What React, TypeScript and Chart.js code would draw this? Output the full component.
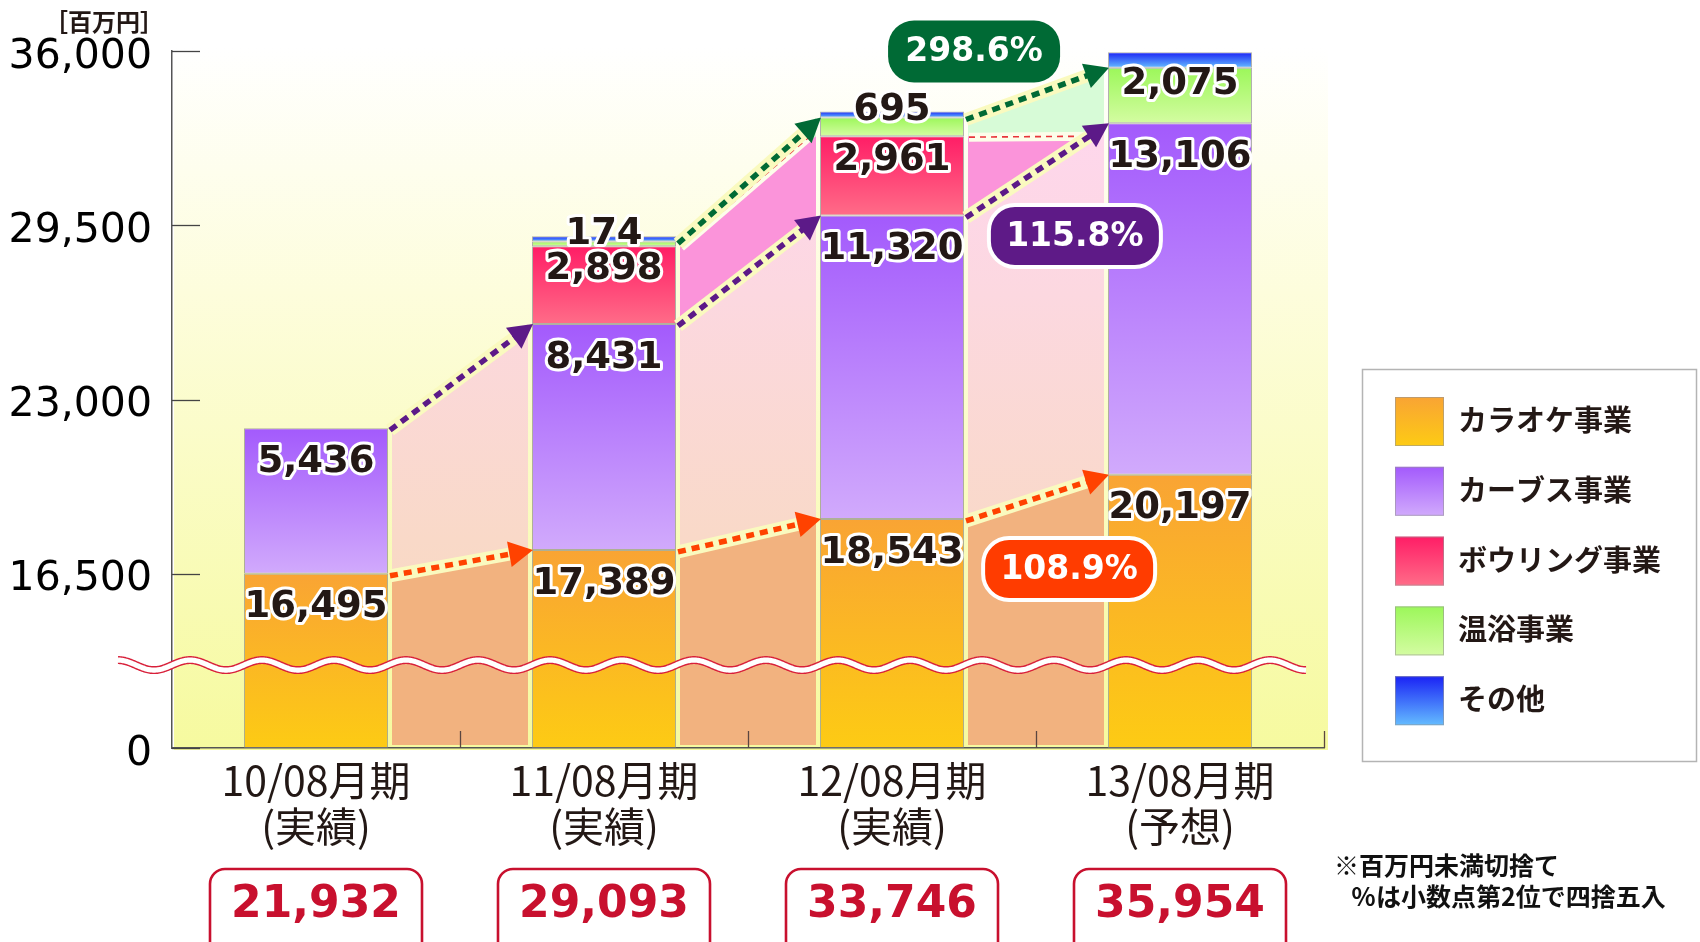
import React, { useEffect, useRef } from 'react';
import { Chart, registerables } from 'chart.js';

Chart.register(...registerables);

// ---------- data ----------
const periodLabels: string[][] = [
  ['10/08月期', '(実績)'],
  ['11/08月期', '(実績)'],
  ['12/08月期', '(実績)'],
  ['13/08月期', '(予想)'],
];
const seriesNames = ['カラオケ事業', 'カーブス事業', 'ボウリング事業', '温浴事業', 'その他'];
const karaoke = [16495, 17389, 18543, 20197];
const curves = [5436, 8431, 11320, 13106];
const bowling = [0, 2898, 2961, 0];
const onsen = [0, 174, 695, 2075];
const other = [0, 201, 227, 576];
const totals = [21932, 29093, 33746, 35954];
const yTickLabels = [0, 16500, 23000, 29500, 36000];
const growthTexts = ['298.6%', '115.8%', '108.9%'];
const labelledSeries = [true, true, true, true, false];

const seriesValues = [karaoke, curves, bowling, onsen, other];

// ---------- axis break (0..16,500 squeezed into one 6,500 step) ----------
const BREAK_AT = 16500;
const STEP = 6500;
const toAxis = (v: number) => (v <= BREAK_AT ? (v * STEP) / BREAK_AT : v - BREAK_AT + STEP);
const AXIS_BREAK_VALUE = 7850;

const cumTop: number[][] = seriesValues.map((_, k) =>
  periodLabels.map((__, j) => seriesValues.slice(0, k + 1).reduce((s, arr) => s + arr[j], 0))
);

// ---------- styles ----------
const seriesGrad: [string, string][] = [
  ['#f9a434', '#fdcb14'],
  ['#a35afc', '#d1aafc'],
  ['#ff1d66', '#ff6c88'],
  ['#9cf75a', '#d4fca2'],
  ['#1a22f5', '#64bcff'],
];
const regionColors = ['#f2b27f', null, '#fb94da', '#d7fbd7'];
const lineColors = ['#ff4200', '#5c1a88', '#e8353a', '#006a35'];
const badgeStyles = [
  { color: '#006a35', cat: 2.285, value: 35981, border: false },
  { color: '#5e1a87', cat: 2.635, value: 29099, border: true },
  { color: '#ff3c00', cat: 2.615, value: 16677, border: true },
];
const TEXT_DARK = '#231815';
const TOTAL_RED = '#c8102e';

const fmt = (v: number) => v.toLocaleString('en-US');

function gradientFor(c: any, k: number) {
  const [c0, c1] = seriesGrad[k];
  if (!c || c.type !== 'data') return c0;
  const chart = c.chart;
  const ys = chart.scales && chart.scales.y;
  const j = c.dataIndex;
  if (!ys) return c0;
  const top = ys.getPixelForValue(toAxis(cumTop[k][j]));
  const bot = ys.getPixelForValue(toAxis(cumTop[k][j] - seriesValues[k][j]));
  if (!isFinite(top) || !isFinite(bot) || Math.abs(bot - top) < 0.5) return c0;
  const g = chart.ctx.createLinearGradient(0, top, 0, bot);
  g.addColorStop(0, c0);
  g.addColorStop(1, c1);
  return g;
}

function geo(chart: any) {
  const ys = chart.scales.y;
  const meta = chart.getDatasetMeta(0);
  const bars = meta.data.map((el: any) => ({ x: el.x as number, w: el.width as number }));
  const py = (v: number) => ys.getPixelForValue(toAxis(v));
  return { ys, bars, py };
}

// value of level k at the right side of gap j (flat when the series ends)
const nextLevel = (k: number, j: number) =>
  seriesValues[k][j + 1] > 0 ? cumTop[k][j + 1] : cumTop[k][j];

function drawArrow(ctx: CanvasRenderingContext2D, x1: number, y1: number, x2: number, y2: number, color: string) {
  const dx = x2 - x1, dy = y2 - y1;
  const len = Math.hypot(dx, dy);
  const ux = dx / len, uy = dy / len;
  const head = 24, hw = 13;
  const bx = x2 - ux * head, by = y2 - uy * head;
  ctx.save();
  ctx.lineCap = 'butt';
  ctx.strokeStyle = '#fafabf';
  ctx.lineWidth = 13;
  ctx.beginPath();
  ctx.moveTo(x1, y1);
  ctx.lineTo(bx, by);
  ctx.stroke();
  ctx.setLineDash([8, 6]);
  ctx.strokeStyle = color;
  ctx.lineWidth = 5.5;
  ctx.beginPath();
  ctx.moveTo(x1, y1);
  ctx.lineTo(bx + ux * 2, by + uy * 2);
  ctx.stroke();
  ctx.setLineDash([]);
  ctx.fillStyle = color;
  ctx.beginPath();
  ctx.moveTo(x2, y2);
  ctx.lineTo(bx - uy * hw, by + ux * hw);
  ctx.lineTo(bx + uy * hw, by - ux * hw);
  ctx.closePath();
  ctx.fill();
  ctx.restore();
}

function roundRect(ctx: CanvasRenderingContext2D, x: number, y: number, w: number, h: number, r: number) {
  ctx.beginPath();
  ctx.moveTo(x + r, y);
  ctx.lineTo(x + w - r, y);
  ctx.arcTo(x + w, y, x + w, y + r, r);
  ctx.lineTo(x + w, y + h - r);
  ctx.arcTo(x + w, y + h, x + w - r, y + h, r);
  ctx.lineTo(x + r, y + h);
  ctx.arcTo(x, y + h, x, y + h - r, r);
  ctx.lineTo(x, y + r);
  ctx.arcTo(x, y, x + r, y, r);
  ctx.closePath();
}

const decorPlugin = {
  id: 'decor',
  beforeDraw(chart: any) {
    const { ctx, chartArea: a } = chart;
    const g = ctx.createLinearGradient(0, a.top - 4, 0, a.bottom);
    g.addColorStop(0, '#ffffff');
    g.addColorStop(0.35, '#fdfddc');
    g.addColorStop(1, '#f6fa9f');
    ctx.save();
    ctx.fillStyle = g;
    ctx.fillRect(a.left + 2, a.top - 4, a.right + 4 - (a.left + 2), a.bottom + 2 - (a.top - 4));
    ctx.restore();
  },
  beforeDatasetsDraw(chart: any) {
    const { ctx, chartArea: a } = chart;
    const { bars, py } = geo(chart);
    const curvesGrad = ctx.createLinearGradient(0, a.top, 0, a.bottom);
    curvesGrad.addColorStop(0, '#ffd6f2');
    curvesGrad.addColorStop(0.35, '#fcd8e0');
    curvesGrad.addColorStop(0.7, '#f9d9c8');
    curvesGrad.addColorStop(1, '#f6dabb');
    const bottom = a.bottom - 3;
    ctx.save();
    for (const k of [3, 2, 1, 0]) {
      for (let j = 0; j < bars.length - 1; j++) {
        if (!(seriesValues[k][j] > 0)) continue;
        const xL = bars[j].x + bars[j].w / 2 + 4;
        const xR = bars[j + 1].x - bars[j + 1].w / 2 - 4;
        const yL = py(cumTop[k][j]);
        const yR = py(nextLevel(k, j));
        ctx.fillStyle = k === 1 ? curvesGrad : (regionColors[k] as string);
        ctx.beginPath();
        ctx.moveTo(xL, yL);
        ctx.lineTo(xR, yR);
        ctx.lineTo(xR, bottom);
        ctx.lineTo(xL, bottom);
        ctx.closePath();
        ctx.fill();
      }
    }
    ctx.restore();
  },
  afterDatasetsDraw(chart: any) {
    const { ctx, chartArea: a } = chart;
    const { bars, py } = geo(chart);
    const n = bars.length;

    // bowling trend: thin red dashed line
    ctx.save();
    for (let j = 0; j < n - 1; j++) {
      if (!(bowling[j] > 0)) continue;
      const x1 = bars[j].x + bars[j].w / 2 + 5;
      const x2 = bars[j + 1].x - bars[j + 1].w / 2 - 10;
      const y1 = py(cumTop[2][j]) + 1;
      const y2 = py(nextLevel(2, j));
      ctx.setLineDash([]);
      ctx.strokeStyle = '#fdfdea';
      ctx.lineWidth = 9;
      ctx.beginPath();
      ctx.moveTo(x1, y1);
      ctx.lineTo(x2, y2);
      ctx.stroke();
      ctx.setLineDash([6, 5]);
      ctx.strokeStyle = lineColors[2];
      ctx.lineWidth = 1.6;
      ctx.beginPath();
      ctx.moveTo(x1, y1);
      ctx.lineTo(x2, y2);
      ctx.stroke();
    }
    ctx.restore();

    // arrows: onsen (green), curves (purple), karaoke (orange)
    for (const k of [3, 1, 0]) {
      for (let j = 0; j < n - 1; j++) {
        if (!(seriesValues[k][j] > 0)) continue;
        const x1 = bars[j].x + bars[j].w / 2 + 2;
        const x2 = bars[j + 1].x - bars[j + 1].w / 2 + 1;
        const y1 = py(cumTop[k][j]) + 2;
        const y2 = py(nextLevel(k, j));
        drawArrow(ctx, x1, y1, x2, y2, lineColors[k]);
      }
    }

    // axis break wave
    const yc = chart.scales.y.getPixelForValue(toAxis(AXIS_BREAK_VALUE));
    const x0 = a.left - 54;
    const xEnd = a.right - 18;
    const period = 72;
    ctx.save();
    ctx.beginPath();
    for (let x = x0; x <= xEnd; x += 1) {
      const y = yc - 5 * Math.cos((2 * Math.PI * (x - x0)) / period);
      if (x === x0) ctx.moveTo(x, y);
      else ctx.lineTo(x, y);
    }
    ctx.lineCap = 'butt';
    ctx.lineJoin = 'round';
    ctx.strokeStyle = '#d8203a';
    ctx.lineWidth = 8;
    ctx.stroke();
    ctx.strokeStyle = '#ffffff';
    ctx.lineWidth = 5.2;
    ctx.stroke();
    ctx.restore();

    // value labels
    ctx.save();
    ctx.font = 'bold 37px "DejaVu Sans"';
    ctx.textAlign = 'center';
    ctx.textBaseline = 'middle';
    ctx.lineJoin = 'round';
    for (let k = 0; k < seriesValues.length; k++) {
      if (!labelledSeries[k]) continue;
      for (let j = 0; j < n; j++) {
        const v = seriesValues[k][j];
        if (!(v > 0)) continue;
        const topPx = py(cumTop[k][j]);
        const botPx = py(cumTop[k][j] - v);
        const seg = botPx - topPx;
        let cy: number;
        if (seg < 40) cy = topPx - 7;
        else if (seg < 100) cy = topPx + seg * 0.3;
        else cy = topPx + 34;
        const txt = fmt(v);
        ctx.strokeStyle = '#ffffff';
        ctx.lineWidth = 6;
        ctx.strokeText(txt, bars[j].x, cy);
        ctx.fillStyle = TEXT_DARK;
        ctx.fillText(txt, bars[j].x, cy);
      }
    }
    ctx.restore();
  },
  afterDraw(chart: any) {
    const { ctx, chartArea: a } = chart;
    const xs = chart.scales.x;
    const ys = chart.scales.y;
    const { bars } = geo(chart);

    // inner tick marks
    ctx.save();
    ctx.strokeStyle = '#444';
    ctx.lineWidth = 1.3;
    for (const tk of ys.ticks) {
      const y = Math.round(ys.getPixelForValue(tk.value)) + 0.5;
      ctx.beginPath();
      ctx.moveTo(a.left, y);
      ctx.lineTo(a.left + 28, y);
      ctx.stroke();
    }
    ctx.strokeStyle = '#5b4640';
    for (let i = 0; i < periodLabels.length; i++) {
      const x = Math.round(xs.getPixelForValue(i + 0.5)) + 0.5;
      ctx.beginPath();
      ctx.moveTo(x, a.bottom - 17);
      ctx.lineTo(x, a.bottom);
      ctx.stroke();
    }
    ctx.restore();

    // growth badges
    ctx.save();
    ctx.font = 'bold 33px "DejaVu Sans"';
    ctx.textAlign = 'center';
    ctx.textBaseline = 'middle';
    growthTexts.forEach((txt, i) => {
      const b = badgeStyles[i];
      const cx = xs.getPixelForValue(b.cat);
      const cy = ys.getPixelForValue(toAxis(b.value));
      const w = 172, h = 62;
      roundRect(ctx, cx - w / 2, cy - h / 2, w, h, 26);
      ctx.fillStyle = b.color;
      ctx.fill();
      if (b.border) {
        ctx.strokeStyle = '#ffffff';
        ctx.lineWidth = 4;
        ctx.stroke();
      }
      ctx.fillStyle = '#ffffff';
      ctx.fillText(txt, cx, cy + 1);
    });
    ctx.restore();

    // totals boxes
    ctx.save();
    ctx.font = 'bold 44px "DejaVu Sans"';
    ctx.textAlign = 'center';
    ctx.textBaseline = 'middle';
    totals.forEach((tv, j) => {
      const cx = bars[j].x;
      const w = 212;
      roundRect(ctx, cx - w / 2, 869, w, 110, 15);
      ctx.fillStyle = '#ffffff';
      ctx.fill();
      ctx.strokeStyle = TOTAL_RED;
      ctx.lineWidth = 2.6;
      ctx.stroke();
      ctx.fillStyle = TOTAL_RED;
      ctx.fillText(fmt(tv), cx, 906);
    });
    ctx.restore();

    // unit label
    ctx.save();
    ctx.fillStyle = TEXT_DARK;
    ctx.font = 'bold 24px "Noto Sans CJK JP"';
    ctx.textAlign = 'center';
    ctx.textBaseline = 'middle';
    ctx.fillText('［百万円］', 104, 22);
    ctx.restore();

    // notes
    ctx.save();
    ctx.fillStyle = '#111';
    ctx.font = 'bold 25px "Noto Sans CJK JP"';
    ctx.textAlign = 'left';
    ctx.textBaseline = 'middle';
    ctx.fillText('※百万円未満切捨て', 1334, 865);
    ctx.fillText('％は小数点第2位で四捨五入', 1351, 896);
    ctx.restore();

    // legend
    ctx.save();
    ctx.strokeStyle = '#b4b4b4';
    ctx.lineWidth = 1.5;
    ctx.strokeRect(1362.5, 369.5, 334, 392);
    ctx.font = 'bold 29px "Noto Sans CJK JP"';
    ctx.textAlign = 'left';
    ctx.textBaseline = 'middle';
    seriesNames.forEach((name, i) => {
      const y0 = 397 + i * 69.8;
      const g = ctx.createLinearGradient(0, y0, 0, y0 + 49);
      g.addColorStop(0, seriesGrad[i][0]);
      g.addColorStop(1, seriesGrad[i][1]);
      ctx.fillStyle = g;
      ctx.fillRect(1395, y0, 49, 49);
      ctx.strokeStyle = 'rgba(150,150,150,0.6)';
      ctx.lineWidth = 1;
      ctx.strokeRect(1395.5, y0 + 0.5, 48, 48);
      ctx.fillStyle = TEXT_DARK;
      ctx.fillText(name, 1458, y0 + 23);
    });
    ctx.restore();
  },
};

export default function App() {
  const canvasRef = useRef<HTMLCanvasElement | null>(null);

  useEffect(() => {
    const canvas = canvasRef.current;
    if (!canvas) return;
    const chart = new Chart(canvas, {
      type: 'bar',
      data: {
        labels: periodLabels,
        datasets: seriesValues.map((vals, k) => ({
          label: seriesNames[k],
          data: vals.map((v, j) => (v > 0 ? toAxis(cumTop[k][j]) - toAxis(cumTop[k][j] - v) : null)),
          backgroundColor: (c: any) => gradientFor(c, k),
          borderColor: 'rgba(125,125,125,0.6)',
          borderWidth: 1,
          borderSkipped: false,
          stack: 'total',
          categoryPercentage: 1,
          barPercentage: 0.5,
        })),
      },
      options: {
        responsive: false,
        animation: false,
        devicePixelRatio: 1,
        layout: { padding: { left: 0, top: 51, right: 376, bottom: 0 } },
        plugins: {
          legend: { display: false },
          tooltip: { enabled: false },
          title: { display: false },
        },
        scales: {
          x: {
            stacked: true,
            grid: { display: false, drawTicks: false },
            border: { display: true, color: '#555', width: 1.5 },
            ticks: {
              color: TEXT_DARK,
              font: { family: '"Noto Sans CJK JP"', size: 41, lineHeight: 1.11 },
              padding: 10,
              maxRotation: 0,
              autoSkip: false,
            },
            afterFit: (s: any) => {
              s.height = 194;
            },
          },
          y: {
            stacked: true,
            min: 0,
            max: toAxis(yTickLabels[yTickLabels.length - 1]),
            grid: { display: false, drawTicks: false },
            border: { display: true, color: '#555', width: 1.5 },
            ticks: {
              stepSize: STEP,
              color: '#000',
              font: { family: '"DejaVu Sans"', size: 41 },
              padding: 20,
              labelOffset: 6,
              callback: (_v: any, i: number) => fmt(yTickLabels[i]),
            },
            afterFit: (s: any) => {
              s.width = 172;
            },
          },
        },
      },
      plugins: [decorPlugin],
    } as any);
    return () => chart.destroy();
  }, []);

  return (
    <div style={{ position: 'fixed', left: 0, top: 0, width: 1700, height: 942, background: '#fff' }}>
      <canvas ref={canvasRef} width={1700} height={942} style={{ width: 1700, height: 942, display: 'block' }} />
    </div>
  );
}
